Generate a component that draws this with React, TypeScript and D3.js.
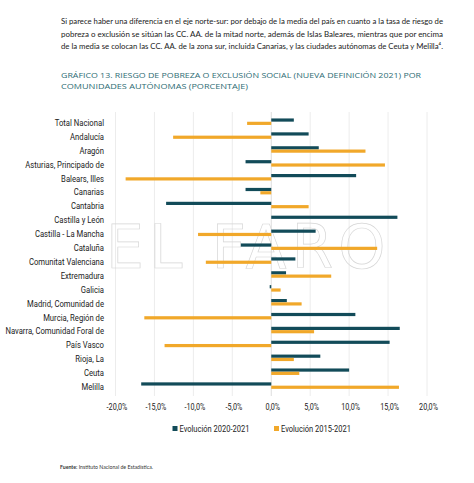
import React from "react";
import * as d3 from "d3";

// Comunidades autónomas, de arriba abajo
const categories = [
  "Total Nacional",
  "Andalucía",
  "Aragón",
  "Asturias, Principado de",
  "Balears, Illes",
  "Canarias",
  "Cantabria",
  "Castilla y León",
  "Castilla - La Mancha",
  "Cataluña",
  "Comunitat Valenciana",
  "Extremadura",
  "Galicia",
  "Madrid, Comunidad de",
  "Murcia, Región de",
  "Navarra, Comunidad Foral de",
  "País Vasco",
  "Rioja, La",
  "Ceuta",
  "Melilla",
];

// Evolución 2020-2021 (%)
const evol2020_2021 = [
  2.9, 4.8, 6.1, -3.3, 10.9, -3.3, -13.5, 16.2, 5.7, -3.9, 3.1, 1.9, -0.2, 2.0,
  10.8, 16.5, 15.2, 6.3, 10.0, -16.7,
];

// Evolución 2015-2021 (%)
const evol2015_2021 = [
  -3.1, -12.6, 12.1, 14.6, -18.7, -1.4, 4.8, 0.0, -9.4, 13.6, -8.4, 7.7, 1.2, 3.9,
  -16.3, 5.5, -13.7, 2.9, 3.6, 16.4,
];

const tickValues = [-20, -15, -10, -5, 0, 5, 10, 15, 20];

const seriesNames = ["Evolución 2020-2021", "Evolución 2015-2021"];

const introLines = [
  "Si parece haber una diferencia en el eje norte-sur: por debajo de la media del país en cuanto a la tasa de riesgo de",
  "pobreza o exclusión se sitúan las CC. AA. de la mitad norte, además de Islas Baleares, mientras que por encima",
  "de la media se colocan las CC. AA. de la zona sur, incluida Canarias, y las ciudades autónomas de Ceuta y Melilla⁴.",
];

const titleLines = [
  "GRÁFICO 13. RIESGO DE POBREZA O EXCLUSIÓN SOCIAL (NUEVA DEFINICIÓN 2021) POR",
  "COMUNIDADES AUTÓNOMAS (PORCENTAJE)",
];

const DARK = "#124b59";
const ORANGE = "#f1a82a";
const TITLE = "#2d6c74";
const COND = "Roboto, 'Noto Sans', sans-serif";
const SQUEEZE = 0.8; // horizontal compression for the condensed labels

export default function App() {
  const W = 474;
  const H = 483;

  const x = d3.scaleLinear().domain([-20, 20]).range([115.5, 427]);
  const y = d3
    .scaleBand<string>()
    .domain(categories)
    .range([115.8, 393.6])
    .paddingInner(0)
    .paddingOuter(0);
  const step = y.step();
  const barH = 3.2;

  const fmt = (v: number) => d3.format(".1f")(v).replace(".", ",").replace("−", "-") + "%";

  // Text placed at (px, py) but squeezed horizontally around its anchor
  const squeezed = (px: number, py: number) =>
    `translate(${px},${py}) scale(${SQUEEZE},1)`;

  return (
    <svg
      width={W}
      height={H}
      style={{ position: "absolute", left: 0, top: 0, background: "#fff" }}
    >
      {/* Párrafo introductorio */}
      <g fontFamily="Lato, 'Open Sans', sans-serif" fontSize={8.4} fill="#1a1a1a">
        {introLines.map((t, i) => (
          <text
            key={i}
            x={61}
            y={24 + i * 12.5}
            textLength={382}
            lengthAdjust="spacingAndGlyphs"
          >
            {t}
          </text>
        ))}
      </g>

      {/* Título */}
      <g fontFamily="'Open Sans', Lato, sans-serif" fontSize={7.4} fill={TITLE}>
        <text x={61} y={78} textLength={360} lengthAdjust="spacingAndGlyphs">
          {titleLines[0]}
        </text>
        <text x={61} y={89} textLength={187} lengthAdjust="spacingAndGlyphs">
          {titleLines[1]}
        </text>
      </g>

      {/* Rejilla vertical */}
      <g>
        {tickValues.map((t) => (
          <line
            key={t}
            x1={x(t)}
            x2={x(t)}
            y1={112}
            y2={396}
            stroke={t === 0 ? "#d4d4d4" : "#e7e7e7"}
            strokeWidth={0.8}
          />
        ))}
      </g>

      {/* Marca de agua */}
      <text
        x={106}
        y={268}
        fontFamily="'DejaVu Sans', sans-serif"
        fontSize={60}
        letterSpacing={5}
        fill="none"
        stroke="#d6d6d6"
        strokeWidth={0.7}
      >
        EL FARO
      </text>

      {/* Barras */}
      <g>
        {categories.map((c, i) => {
          const cy = (y(c) ?? 0) + step / 2;
          const a = evol2020_2021[i];
          const b = evol2015_2021[i];
          return (
            <g key={c}>
              <rect
                x={Math.min(x(0), x(a))}
                y={cy - 4.3}
                width={Math.abs(x(a) - x(0))}
                height={barH}
                fill={DARK}
              />
              <rect
                x={Math.min(x(0), x(b))}
                y={cy - 1.0}
                width={Math.abs(x(b) - x(0))}
                height={barH}
                fill={ORANGE}
              />
            </g>
          );
        })}
      </g>

      {/* Etiquetas de categoría */}
      <g fontFamily={COND} fontSize={9.6} fill="#1a1a1a" textAnchor="end">
        {categories.map((c) => (
          <text key={c} transform={squeezed(104, (y(c) ?? 0) + step / 2 + 3.3)}>
            {c}
          </text>
        ))}
      </g>

      {/* Eje X */}
      <g fontFamily={COND} fontSize={9} fill="#1a1a1a" textAnchor="middle">
        {tickValues.map((t) => (
          <text key={t} transform={squeezed(x(t) + 1.5, 410)}>
            {fmt(t)}
          </text>
        ))}
      </g>

      {/* Leyenda */}
      <g fontFamily={COND} fontSize={9.4} fill="#1a1a1a">
        <rect x={172.5} y={426} width={5} height={5} fill={DARK} />
        <text transform={squeezed(179.5, 432.3)}>{seriesNames[0]}</text>
        <rect x={274} y={426} width={5} height={5} fill={ORANGE} />
        <text transform={squeezed(281, 432.3)}>{seriesNames[1]}</text>
      </g>

      {/* Fuente */}
      <text x={60} y={469} fontFamily="Lato, 'Open Sans', sans-serif" fontSize={5.2} fill="#333">
        <tspan fontWeight="bold">Fuente:</tspan> Instituto Nacional de Estadística.
      </text>
    </svg>
  );
}
